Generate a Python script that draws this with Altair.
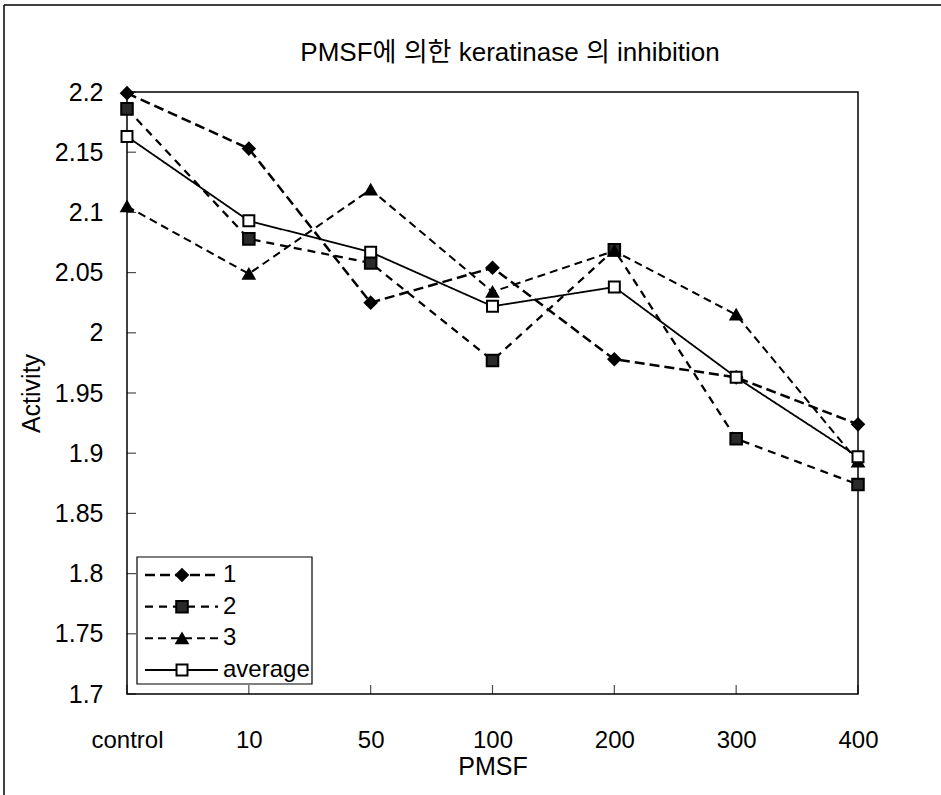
import altair as alt
import pandas as pd

# ---- data ----
categories = ["control", "10", "50", "100", "200", "300", "400"]
series_names = ["1", "2", "3", "average"]
s1 = [2.199, 2.153, 2.025, 2.054, 1.978, 1.963, 1.924]
s2 = [2.186, 2.078, 2.058, 1.977, 2.069, 1.912, 1.874]
s3 = [2.105, 2.049, 2.119, 2.034, 2.068, 2.015, 1.893]
avg = [2.163, 2.093, 2.067, 2.022, 2.038, 1.963, 1.897]
y_ticks = [1.7, 1.75, 1.8, 1.85, 1.9, 1.95, 2.0, 2.05, 2.1, 2.15, 2.2]
title_text = "PMSF에 의한 keratinase 의 inhibition"

FONT = "Liberation Sans, Arial, Noto Sans CJK KR"

rows = []
for name, vals in zip(series_names, [s1, s2, s3, avg]):
    for c, v in zip(categories, vals):
        rows.append({"PMSF": c, "series": name, "Activity": v})
df = pd.DataFrame(rows)

W, H = 731, 602

x_scale = alt.Scale(type="point", domain=categories, padding=0)
y_scale = alt.Scale(domain=[1.7, 2.2], nice=False, zero=False)

dash_scale = alt.Scale(domain=series_names, range=[[10, 5], [8, 6], [8, 5], [1, 0]])
width_scale = alt.Scale(domain=series_names, range=[2.5, 1.8, 2.3, 2.4])
shape_scale = alt.Scale(domain=series_names, range=["diamond", "square", "triangle-up", "square"])
fill_scale = alt.Scale(domain=series_names, range=["black", "#2a2a2a", "black", "white"])
size_scale = alt.Scale(domain=series_names, range=[140, 120, 130, 150])

X = alt.X("PMSF:N", scale=x_scale, sort=categories,
          axis=alt.Axis(title="PMSF", labelPadding=34, titlePadding=2, labelAngle=0))
Y = alt.Y("Activity:Q", scale=y_scale,
          axis=alt.Axis(title="Activity", values=y_ticks, format=".2~f", labelPadding=24, titlePadding=10))

base = alt.Chart(df)

lines = base.mark_line(color="black").encode(
    x=X, y=Y,
    detail="series:N",
    strokeDash=alt.StrokeDash("series:N", scale=dash_scale, legend=None),
    strokeWidth=alt.StrokeWidth("series:N", scale=width_scale, legend=None),
)

points = base.mark_point(filled=False, stroke="black", strokeWidth=2, opacity=1).encode(
    x=X, y=Y,
    shape=alt.Shape("series:N", scale=shape_scale, legend=None),
    fill=alt.Fill("series:N", scale=fill_scale, legend=None),
    size=alt.Size("series:N", scale=size_scale, legend=None),
)

ytick_df = pd.DataFrame({"Activity": y_ticks})
yticks = alt.Chart(ytick_df).mark_tick(orient="horizontal", size=9, thickness=1.2, color="black").encode(
    y=Y, x=alt.value(4.5)
)
xtick_df = pd.DataFrame({"PMSF": categories})
xticks = alt.Chart(xtick_df).mark_tick(orient="vertical", size=9, thickness=1.2, color="black").encode(
    x=X, y=alt.value(H - 4.5)
)

main = alt.layer(lines, points, yticks, xticks)

# ---- legend (built from the same series list) ----
leg_df = pd.DataFrame({"series": series_names})
leg_y = alt.Y("series:N", scale=alt.Scale(type="point", domain=series_names, range=[483, 578], padding=0), axis=None)

leg_box = alt.Chart(pd.DataFrame({"a": [0]})).mark_rect(fill="white", stroke="black", strokeWidth=1.2).encode(
    x=alt.value(10), x2=alt.value(185), y=alt.value(465), y2=alt.value(592)
)
leg_rules = alt.Chart(leg_df).mark_rule(color="black").encode(
    x=alt.value(18), x2=alt.value(91), y=leg_y,
    strokeDash=alt.StrokeDash("series:N", scale=dash_scale, legend=None),
    strokeWidth=alt.StrokeWidth("series:N", scale=width_scale, legend=None),
)
leg_points = alt.Chart(leg_df).mark_point(filled=False, stroke="black", strokeWidth=2, opacity=1).encode(
    x=alt.value(55), y=leg_y,
    shape=alt.Shape("series:N", scale=shape_scale, legend=None),
    fill=alt.Fill("series:N", scale=fill_scale, legend=None),
    size=alt.Size("series:N", scale=size_scale, legend=None),
)
leg_text = alt.Chart(leg_df).mark_text(align="left", baseline="middle", font=FONT, fontSize=24, color="black").encode(
    x=alt.value(96), y=leg_y, text="series:N"
)
legend = alt.layer(leg_box, leg_rules, leg_points, leg_text)

title = alt.Chart(pd.DataFrame({"t": [title_text]})).mark_text(
    align="center", baseline="middle", font=FONT, fontSize=26, color="black"
).encode(x=alt.value(383), y=alt.value(-39), text="t:N")

frame_top = alt.Chart(pd.DataFrame({"a": [0]})).mark_rule(color="black", strokeWidth=1.5).encode(
    x=alt.value(-123), x2=alt.value(814), y=alt.value(-87)
)
frame_left = alt.Chart(pd.DataFrame({"a": [0]})).mark_rule(color="black", strokeWidth=1.5).encode(
    x=alt.value(-123), y=alt.value(-87), y2=alt.value(703)
)

chart = alt.layer(main, legend, title, frame_top, frame_left).resolve_scale(
    y="independent"
).properties(
    width=W, height=H,
    padding={"left": 127, "top": 92, "right": 83, "bottom": 101},
    autosize=alt.AutoSizeParams(type="none"),
    background="white",
).configure_view(
    stroke="black", strokeWidth=1.5
).configure_axis(
    domain=False, ticks=False, grid=False,
    labelFont=FONT, labelFontSize=25, labelColor="black",
    titleFont=FONT, titleFontSize=25, titleFontWeight="normal", titleColor="black",
).configure_axisX(labelFontSize=24)

chart.save("out.html", embed_options={"renderer": "svg", "actions": False})
